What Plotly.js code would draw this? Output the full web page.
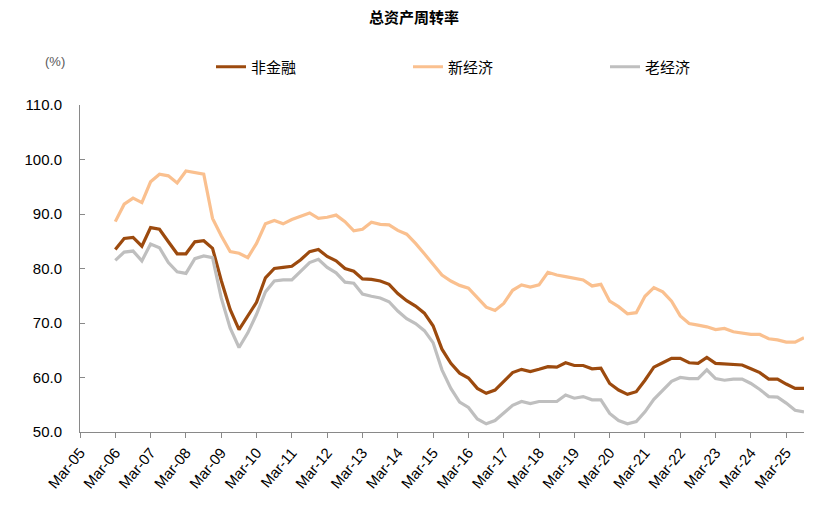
<!DOCTYPE html>
<html>
<head>
<meta charset="utf-8">
<script src="https://cdn.plot.ly/plotly-3.0.1.min.js"></script>
<style>html,body{margin:0;padding:0;background:#fff;}#chart{width:828px;height:511px;}</style>
</head>
<body>
<div id="chart"></div>
<script>
// Quarter-end categories, Mar-06 .. Sep-25
const quarters = [
"2006-03-01","2006-06-01","2006-09-01","2006-12-01",
"2007-03-01","2007-06-01","2007-09-01","2007-12-01",
"2008-03-01","2008-06-01","2008-09-01","2008-12-01",
"2009-03-01","2009-06-01","2009-09-01","2009-12-01",
"2010-03-01","2010-06-01","2010-09-01","2010-12-01",
"2011-03-01","2011-06-01","2011-09-01","2011-12-01",
"2012-03-01","2012-06-01","2012-09-01","2012-12-01",
"2013-03-01","2013-06-01","2013-09-01","2013-12-01",
"2014-03-01","2014-06-01","2014-09-01","2014-12-01",
"2015-03-01","2015-06-01","2015-09-01","2015-12-01",
"2016-03-01","2016-06-01","2016-09-01","2016-12-01",
"2017-03-01","2017-06-01","2017-09-01","2017-12-01",
"2018-03-01","2018-06-01","2018-09-01","2018-12-01",
"2019-03-01","2019-06-01","2019-09-01","2019-12-01",
"2020-03-01","2020-06-01","2020-09-01","2020-12-01",
"2021-03-01","2021-06-01","2021-09-01","2021-12-01",
"2022-03-01","2022-06-01","2022-09-01","2022-12-01",
"2023-03-01","2023-06-01","2023-09-01","2023-12-01",
"2024-03-01","2024-06-01","2024-09-01","2024-12-01",
"2025-03-01","2025-06-01","2025-09-01"
];

const nonFinancial = [
83.5,85.5,85.7,84.1, 87.5,87.2,84.9,82.7, 82.7,84.9,85.1,83.7,
77.8,72.5,68.8,71.2, 73.8,78.3,80.0,80.2, 80.4,81.6,83.1,83.5,
82.2,81.4,80.0,79.5, 78.1,78.0,77.7,77.1, 75.4,74.1,73.1,71.8,
69.5,65.2,62.6,60.8, 59.9,58.0,57.1,57.7, 59.2,60.9,61.5,61.1,
61.5,62.0,61.9,62.7, 62.2,62.2,61.6,61.7, 58.9,57.7,56.9,57.4,
59.5,61.9,62.7,63.5, 63.5,62.7,62.6,63.7, 62.6,62.5,62.4,62.3,
61.6,60.9,59.7,59.7, 58.8,58.0,58.0
];

const newEconomy = [
88.6,91.8,92.9,92.1, 95.9,97.3,97.0,95.7, 97.9,97.6,97.3,89.2,
86.0,83.1,82.8,82.0, 84.6,88.2,88.8,88.2, 89.0,89.6,90.2,89.2,
89.4,89.8,88.6,86.9, 87.2,88.5,88.1,88.0, 87.0,86.3,84.6,82.7,
80.7,78.8,77.7,76.9, 76.4,74.6,72.9,72.3, 73.6,76.0,77.0,76.6,
77.0,79.3,78.8,78.5, 78.2,77.9,76.8,77.1, 74.0,73.0,71.7,71.9,
74.9,76.5,75.7,74.0, 71.3,69.9,69.6,69.3, 68.8,69.0,68.4,68.2,
67.9,67.9,67.1,66.9, 66.5,66.5,67.3
];

const oldEconomy = [
81.5,83.0,83.2,81.4, 84.5,83.8,81.1,79.4, 79.1,81.8,82.3,82.0,
74.6,69.1,65.5,68.2, 71.6,75.7,77.7,77.9, 77.9,79.5,81.1,81.7,
80.2,79.2,77.5,77.3, 75.3,74.9,74.6,73.9, 72.2,70.8,69.9,68.6,
66.4,61.4,58.0,55.5, 54.5,52.4,51.5,52.1, 53.5,54.9,55.6,55.2,
55.6,55.6,55.6,56.8, 56.2,56.5,55.9,55.9, 53.4,52.1,51.5,51.9,
53.7,56.0,57.7,59.3, 60.0,59.8,59.8,61.4, 59.8,59.5,59.7,59.7,
58.9,57.8,56.5,56.4, 55.3,54.0,53.7
];

const seriesNames = ["非金融","新经济","老经济"];
const seriesColors = ["#9C4A0E","#FAC08F","#BFBFBF"];
const seriesData = [nonFinancial, newEconomy, oldEconomy];

const traces = seriesData.map((ys, k) => ({
  type: "scatter",
  mode: "lines",
  name: seriesNames[k],
  x: quarters,
  y: ys,
  line: {color: seriesColors[k], width: 3.2}
}));

const baseFont = "Arial, 'Liberation Sans', 'Noto Sans CJK SC', sans-serif";
const cjkFont = "'Noto Sans CJK SC', 'Noto Sans', sans-serif";

const layout = {
  width: 828, height: 511,
  paper_bgcolor: "#ffffff", plot_bgcolor: "#ffffff",
  margin: {l: 80, r: 24, t: 105, b: 79},
  font: {family: baseFont, size: 15, color: "#000000"},
  title: {
    text: "<b>总资产周转率</b>",
    font: {family: cjkFont, size: 15, color: "#000000"},
    x: 0.5, xref: "container", xanchor: "center",
    y: 1 - 18/511, yref: "container", yanchor: "middle"
  },
  showlegend: true,
  legend: {
    orientation: "h",
    xref: "container", yref: "container",
    x: 211/828, xanchor: "left",
    y: 1 - 67/511, yanchor: "middle",
    font: {family: cjkFont, size: 15, color: "#000000"},
    entrywidth: 152, entrywidthmode: "pixels",
    itemwidth: 30,
    bgcolor: "rgba(0,0,0,0)"
  },
  xaxis: {
    type: "date",
    range: ["2005-03-01", "2025-09-01"],
    tick0: "2005-03-01",
    dtick: "M12",
    tickformat: "%b-%y",
    tickangle: -50,
    ticks: "outside", ticklen: 5, tickcolor: "#898989",
    showline: true, linecolor: "#898989", linewidth: 1,
    showgrid: false, zeroline: false,
    tickfont: {family: baseFont, size: 15, color: "#000000"}
  },
  yaxis: {
    range: [50, 110],
    dtick: 10,
    tickformat: ".1f",
    ticks: "inside", ticklen: 5, tickcolor: "#898989",
    showline: true, linecolor: "#898989", linewidth: 1,
    showgrid: false, zeroline: false,
    ticklabelstandoff: 14,
    tickfont: {family: baseFont, size: 15, color: "#000000"}
  },
  annotations: [{
    text: "(%)", xref: "paper", yref: "paper",
    x: (55 - 80) / 724, y: (432 - 62) / 327,
    xanchor: "center", yanchor: "middle", showarrow: false,
    font: {family: baseFont, size: 13, color: "#595959"}
  }]
};

Plotly.newPlot("chart", traces, layout, {displayModeBar: false, staticPlot: true});
</script>
</body>
</html>
